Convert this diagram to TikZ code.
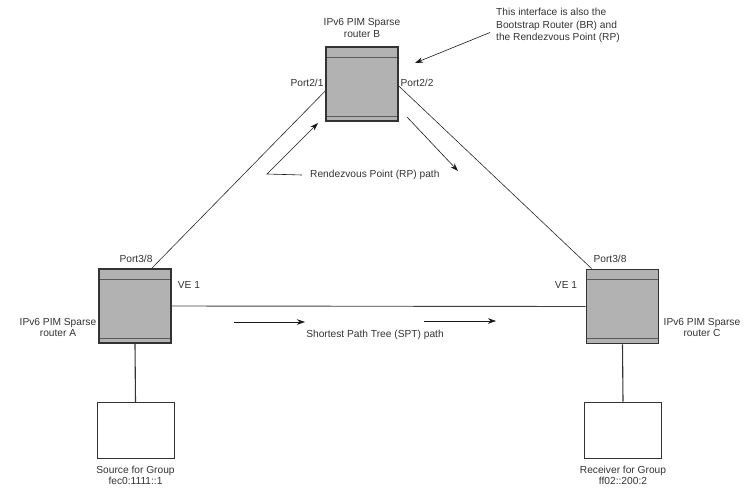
\documentclass[tikz,border=0pt]{standalone}
\usepackage{fontspec}
\setmainfont{Liberation Sans}
\usetikzlibrary{arrows.meta,positioning}

\begin{document}
\begin{tikzpicture}[
  x=1pt, y=-1pt,
  font=\fontsize{10.2}{11.5}\selectfont, text=black!80,
  router/.style={draw=black!80, line width=1.8pt, fill=black!30, minimum width=72pt,
                 minimum height=74pt, inner sep=0pt,
                 path picture={\draw[line width=.9pt, black!65]
                   ([yshift=-10pt]path picture bounding box.north west) -- ([yshift=-10pt]path picture bounding box.north east)
                   ([yshift=5pt]path picture bounding box.south west) -- ([yshift=5pt]path picture bounding box.south east);}},
  host/.style={draw=black!80, line width=.9pt, fill=white, minimum width=77pt, minimum height=56pt},
  lbl/.style={align=center, inner sep=0pt},
  link/.style={draw=black!85, line width=.6pt},
  stub/.style={draw=black!80, line width=1.1pt},
  flow/.style={-{Stealth[length=8pt,width=5.5pt]}, line width=.6pt, black!90}
]
  \useasboundingbox (0,0) rectangle (744,491);

  \node[router] (rtrA) at (135,306) {};
  \node[router] (rtrB) at (362,84) {};
  \node[router] (rtrC) at (622.5,306.5) {};
  \node[host] (src) at (135.5,430.5) {};
  \node[host] (rcv) at (623,430) {};

  \node[lbl] (labA) at (58,327.5) {IPv6 PIM Sparse\\router A};
  \node[lbl] (labB) at (362,28) {IPv6 PIM Sparse\\router B};
  \node[lbl] (labC) at (702,327.5) {IPv6 PIM Sparse\\router C};
  \node[lbl] (labsrc) at (135.5,475.5) {Source for Group\\fec0:1111::1};
  \node[lbl] (labrcv) at (623,475.5) {Receiver for Group\\ff02::200:2};

  \node[lbl] (p21) at (307,83) {Port2/1};
  \node[lbl] (p22) at (417,83) {Port2/2};
  \node[lbl] (p38a) at (136,259) {Port3/8};
  \node[lbl] (p38c) at (610,259) {Port3/8};
  \node[lbl] (ve1a) at (189,285) {VE 1};
  \node[lbl] (ve1c) at (566,285) {VE 1};

  \draw[link] ([xshift=-20pt]rtrA.north east) -- ([yshift=-45pt]rtrB.north west);
  \draw[link] ([yshift=-40pt]rtrB.north east) -- ([xshift=6pt]rtrC.north west);
  \draw[link, line width=.9pt, black!75] (rtrA.east) -- (rtrC.west);
  \draw[stub] (rtrA.south) -- (src.north);
  \draw[stub] (rtrC.south) -- (rcv.north);

  \node[lbl, anchor=west] (rp) at (310,175) {Rendezvous Point (RP) path};
  \coordinate (rpbend) at (267,174);
  \coordinate (rpin) at (318,123);
  \coordinate (rpout) at (407,117);
  \coordinate (rpend) at (458,171);
  \draw[flow] ([xshift=-8pt]rp.west) -- (rpbend) -- (rpin);
  \draw[flow] (rpout) -- (rpend);

  \node[lbl] (spt) at (375,335) {Shortest Path Tree (SPT) path};
  \coordinate (spta) at (234,322);
  \coordinate (sptb) at (305,322);
  \coordinate (sptc) at (424,321);
  \coordinate (sptd) at (496,321);
  \draw[flow] (spta) -- (sptb);
  \draw[flow] (sptc) -- (sptd);

  \node[lbl, align=left, anchor=west, font=\fontsize{10.2}{12.7}\selectfont] (br) at (496,25.5)
    {This interface is also the\\Bootstrap Router (BR) and\\the Rendezvous Point (RP)};
  \coordinate (brtip) at (415,63);
  \draw[flow] ([xshift=-6pt,yshift=-7pt]br.west) -- (brtip);
\end{tikzpicture}
\end{document}
